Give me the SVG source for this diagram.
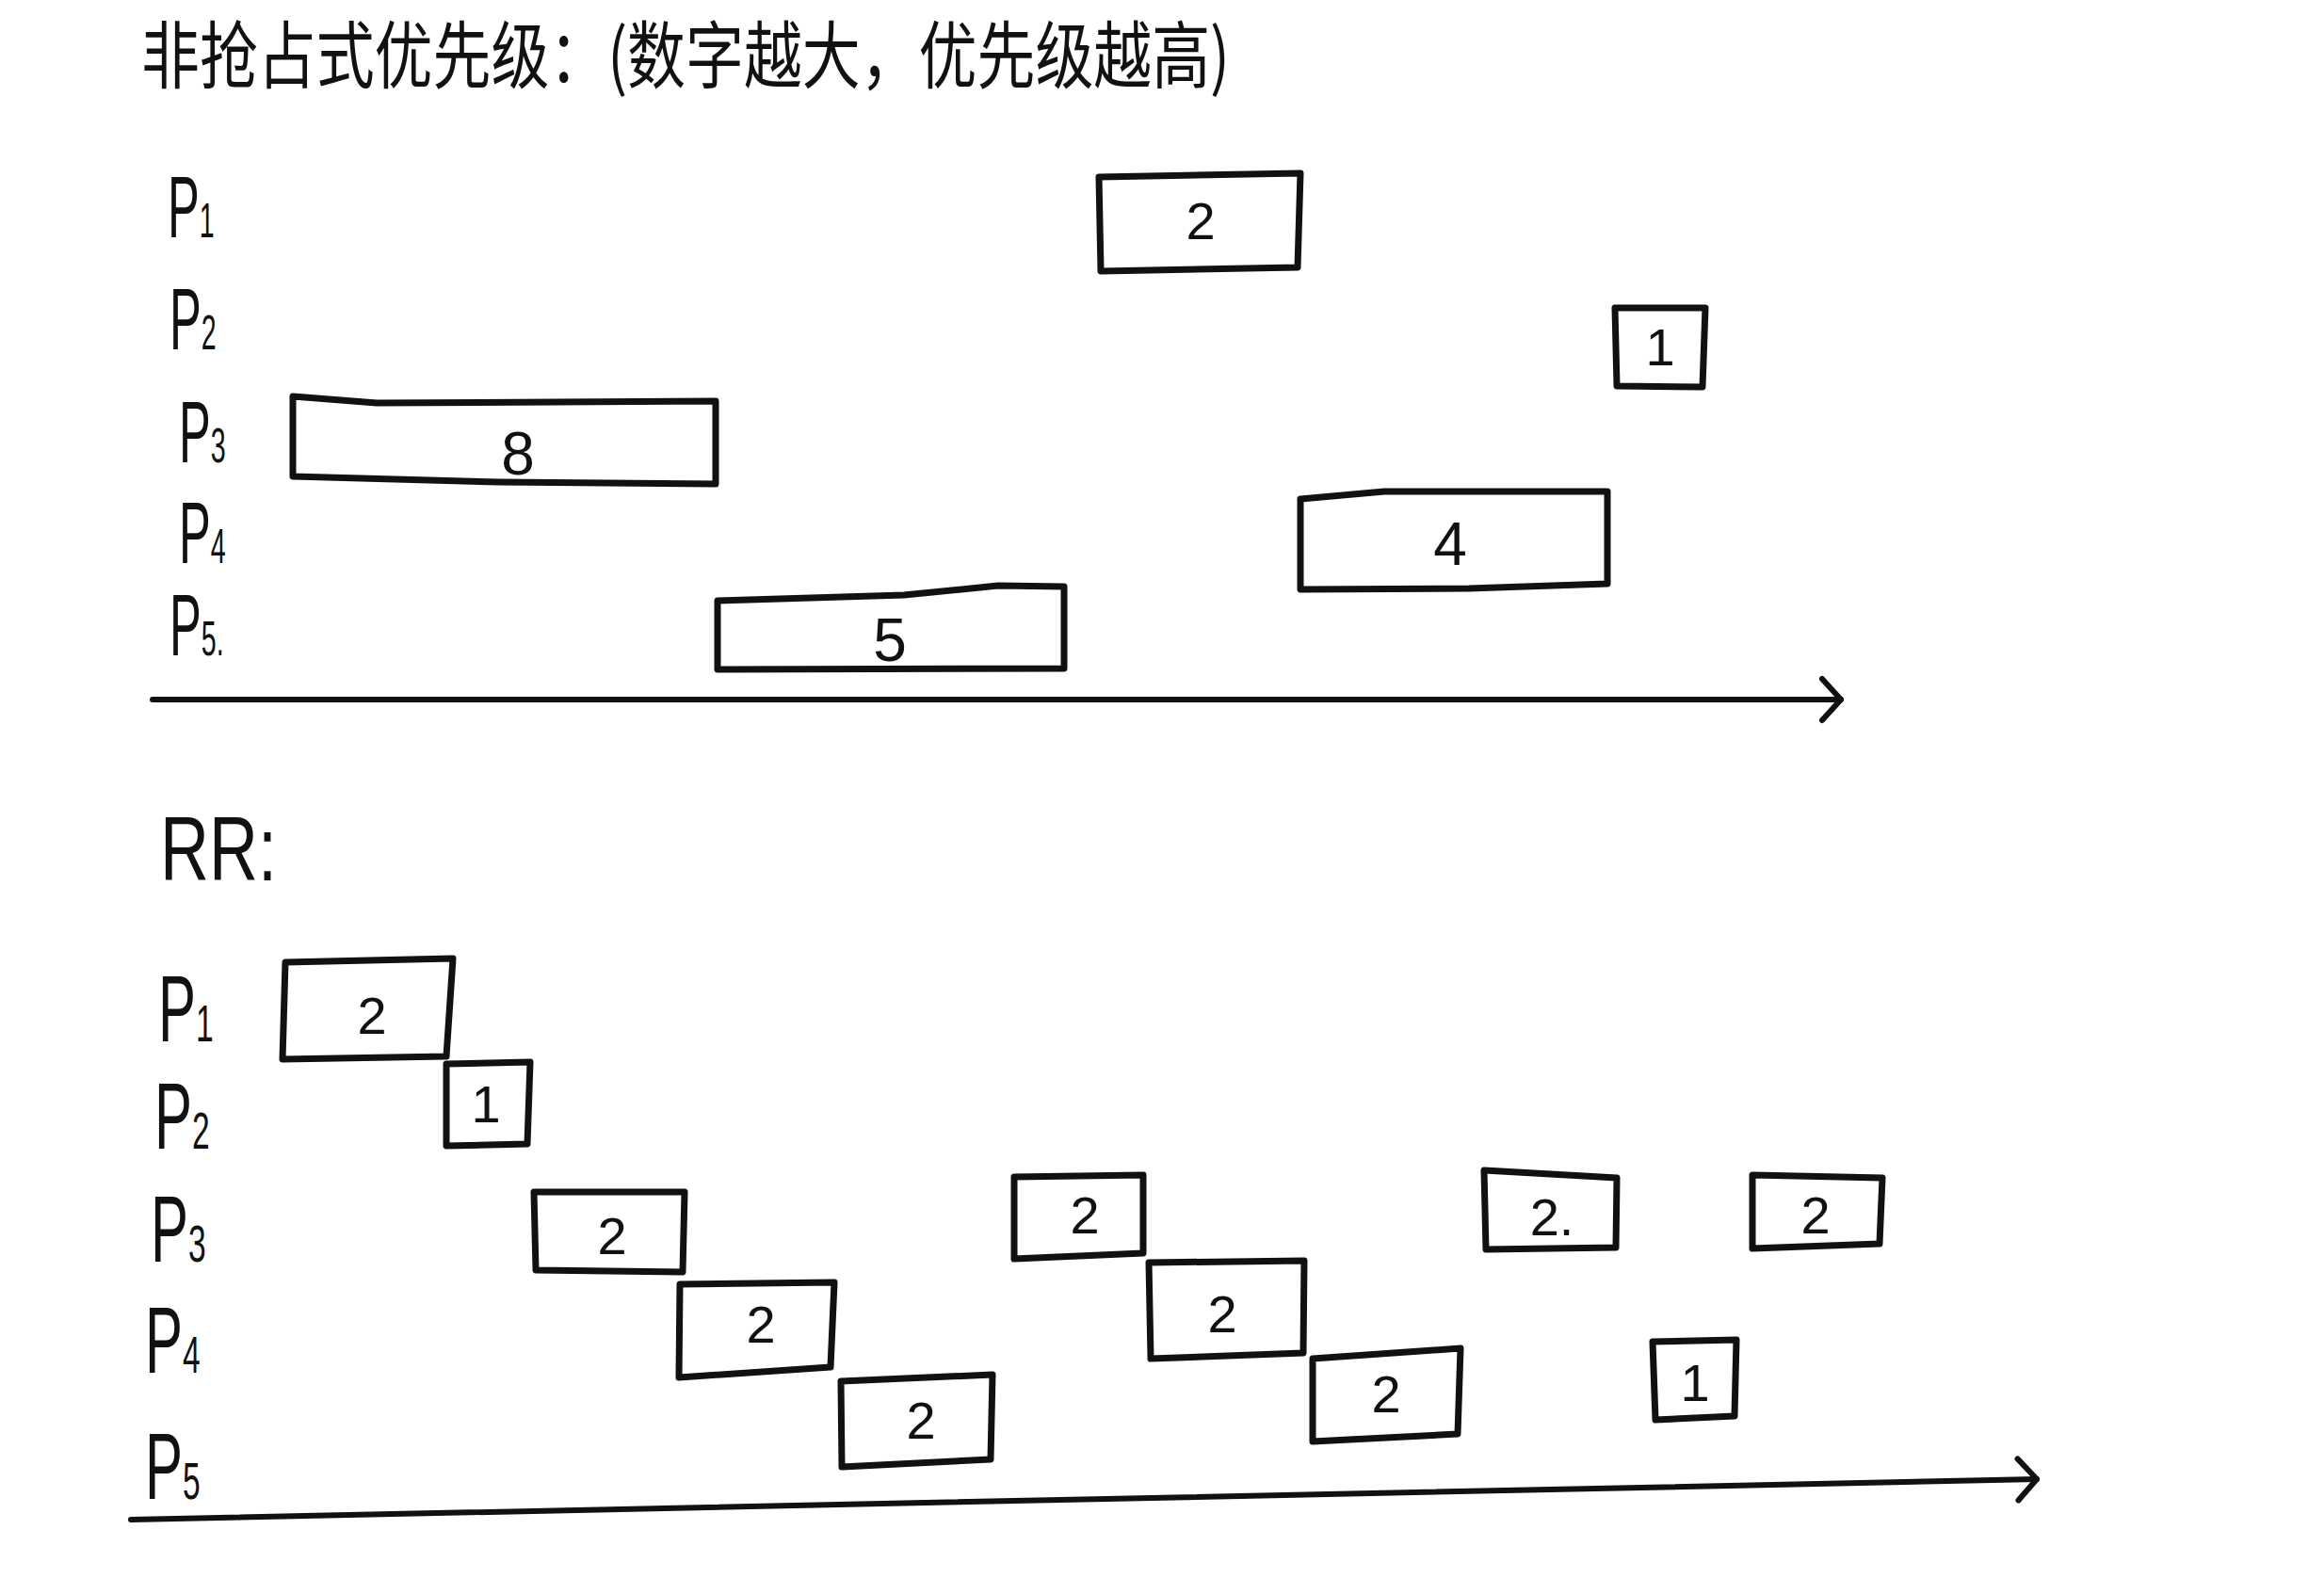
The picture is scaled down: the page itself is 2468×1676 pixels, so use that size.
<svg xmlns="http://www.w3.org/2000/svg" width="2468" height="1676" viewBox="0 0 2468 1676">
<style>
  .box { fill: none; stroke: #111; stroke-width: 7; stroke-linejoin: round; }
  .axis { fill: none; stroke: #111; stroke-width: 6; stroke-linecap: round; }
  .num { font-family: "Liberation Sans", sans-serif; font-size: 56px; fill: #111; text-anchor: middle; dominant-baseline: central; }
  .big { font-size: 64px; }
  .lbl { font-family: "Liberation Sans", sans-serif; font-size: 92px; fill: #111; }
  .lblr { font-family: "Liberation Sans", sans-serif; font-size: 100px; fill: #111; }
  .rrt { font-family: "Liberation Sans", sans-serif; font-size: 96px; fill: #111; }
  .sub { font-size: 52px; }
  .subr { font-size: 56px; }
  .title { font-family: "Noto Sans CJK SC", "Liberation Sans", sans-serif; font-size: 78px; fill: #111; }
</style>
<defs>
  <marker id="arrow" markerUnits="userSpaceOnUse" viewBox="-28 -28 32 56" markerWidth="32" markerHeight="56" refX="0" refY="0" orient="auto">
    <path d="M -20 -22 L 0 0 L -20 22" fill="none" stroke="#111" stroke-width="6" stroke-linecap="round" stroke-linejoin="round"/>
  </marker>
</defs>
<rect width="2468" height="1676" fill="#ffffff"/>

<g id="title">
  <text class="title" x="150" y="88" textLength="1156" lengthAdjust="spacingAndGlyphs">非抢占式优先级：(数字越大，优先级越高)</text>
</g>

<!-- Non-preemptive priority chart labels -->
<g id="np-labels">
  <text class="lbl" transform="translate(178,252) scale(0.55,1)">P<tspan class="sub">1</tspan></text>
  <text class="lbl" transform="translate(180,371) scale(0.55,1)">P<tspan class="sub">2</tspan></text>
  <text class="lbl" transform="translate(190,491) scale(0.55,1)">P<tspan class="sub">3</tspan></text>
  <text class="lbl" transform="translate(190,598) scale(0.55,1)">P<tspan class="sub">4</tspan></text>
  <text class="lbl" transform="translate(180,696) scale(0.55,1)">P<tspan class="sub">5.</tspan></text>
</g>

<g id="np-P1">
  <polygon class="box" points="1167,188 1381,184 1378,284 1169,288"/>
  <text class="num" x="1275" y="234">2</text>
</g>
<g id="np-P2">
  <polygon class="box" points="1715,327 1811,327 1808,411 1717,410"/>
  <text class="num" x="1763" y="368">1</text>
</g>
<g id="np-P3">
  <polygon class="box" points="311,421 400,428 760,426 760,514 530,512 311,506"/>
  <text class="num big" x="550" y="482">8</text>
</g>
<g id="np-P4">
  <polygon class="box" points="1381,530 1470,522 1707,522 1707,620 1560,625 1381,626"/>
  <text class="num big" x="1540" y="578">4</text>
</g>
<g id="np-P5">
  <polygon class="box" points="762,638 960,632 1060,622 1130,623 1130,710 762,711"/>
  <text class="num big" x="945" y="680">5</text>
</g>

<!-- RR chart -->
<g id="rr-title">
  <text class="rrt" transform="translate(170,935) scale(0.75,1)">RR:</text>
</g>
<g id="rr-labels">
  <text class="lblr" transform="translate(168,1106) scale(0.6,1)">P<tspan class="subr">1</tspan></text>
  <text class="lblr" transform="translate(164,1220) scale(0.6,1)">P<tspan class="subr">2</tspan></text>
  <text class="lblr" transform="translate(160,1340) scale(0.6,1)">P<tspan class="subr">3</tspan></text>
  <text class="lblr" transform="translate(154,1458) scale(0.6,1)">P<tspan class="subr">4</tspan></text>
  <text class="lblr" transform="translate(154,1592) scale(0.6,1)">P<tspan class="subr">5</tspan></text>
</g>

<g id="rr-P1-1">
  <polygon class="box" points="303,1022 481,1018 474,1122 300,1125"/>
  <text class="num" x="395" y="1078">2</text>
</g>
<g id="rr-P2-1">
  <polygon class="box" points="474,1130 563,1128 560,1215 474,1217"/>
  <text class="num" x="516" y="1172">1</text>
</g>
<g id="rr-P3-1">
  <polygon class="box" points="567,1266 727,1266 725,1351 569,1349"/>
  <text class="num" x="650" y="1312">2</text>
</g>
<g id="rr-P4-1">
  <polygon class="box" points="722,1364 886,1362 882,1452 721,1463"/>
  <text class="num" x="808" y="1406">2</text>
</g>
<g id="rr-P5-1">
  <polygon class="box" points="893,1467 1054,1460 1052,1550 894,1558"/>
  <text class="num" x="978" y="1508">2</text>
</g>
<g id="rr-P3-2">
  <polygon class="box" points="1077,1250 1214,1248 1214,1331 1077,1337"/>
  <text class="num" x="1152" y="1290">2</text>
</g>
<g id="rr-P4-2">
  <polygon class="box" points="1220,1341 1385,1339 1384,1437 1222,1443"/>
  <text class="num" x="1298" y="1395">2</text>
</g>
<g id="rr-P5-2">
  <polygon class="box" points="1394,1443 1551,1432 1548,1523 1394,1531"/>
  <text class="num" x="1472" y="1480">2</text>
</g>
<g id="rr-P3-3">
  <polygon class="box" points="1576,1243 1717,1251 1716,1325 1578,1327"/>
  <text class="num" x="1648" y="1292">2.</text>
</g>
<g id="rr-P5-3">
  <polygon class="box" points="1755,1425 1844,1423 1842,1504 1758,1508"/>
  <text class="num" x="1800" y="1468">1</text>
</g>
<g id="rr-P3-4">
  <polygon class="box" points="1861,1248 1999,1251 1996,1321 1861,1326"/>
  <text class="num" x="1928" y="1290">2</text>
</g>

<g id="connectors">
  <line class="axis" x1="162" y1="743" x2="1955" y2="743" marker-end="url(#arrow)"/>
  <line class="axis" x1="139" y1="1614" x2="2163" y2="1571" marker-end="url(#arrow)"/>
</g>
</svg>
